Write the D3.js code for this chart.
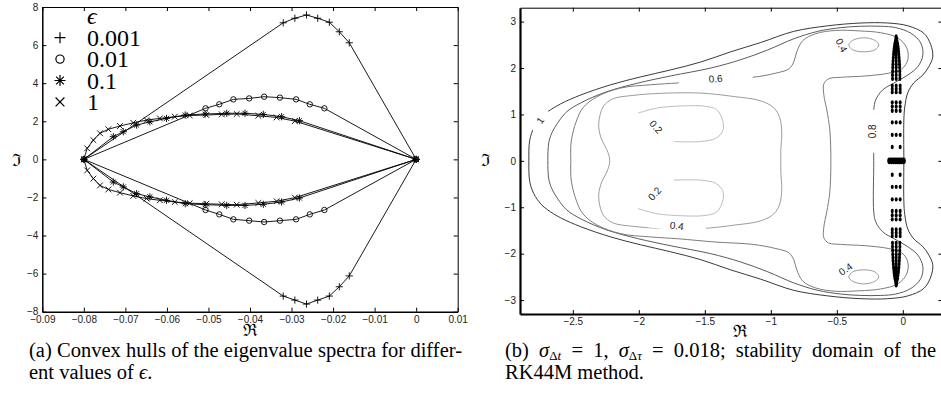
<!DOCTYPE html>
<html>
<head>
<meta charset="utf-8">
<title>Convex hulls / stability domain</title>
<script src="https://cdn.jsdelivr.net/npm/d3@7/dist/d3.min.js"></script>
<style>
  body { margin: 0; background: #fff; }
  .axis text { font-family: "Liberation Sans", Arial, sans-serif; font-size: 10px; fill: #222; }
  .axis line { stroke: #000; }
  .caption { font-family: "Liberation Serif", "Times New Roman", serif; font-size: 20.5px; fill: #000; }
  .frak { font-family: "DejaVu Serif", serif; font-size: 17px; fill: #000; }
  .legtext { font-family: "Liberation Serif", "Times New Roman", serif; font-size: 24px; fill: #000; }
  .clab { font-family: "Liberation Sans", Arial, sans-serif; font-size: 10px; fill: #222;
          paint-order: stroke; stroke: #fff; stroke-width: 4px; }
</style>
</head>
<body>
<svg id="fig" width="941" height="404"></svg>
<script>
// ---------------- panel (a): convex hulls ----------------
var xTicksA = [-0.09,-0.08,-0.07,-0.06,-0.05,-0.04,-0.03,-0.02,-0.01,0,0.01];
var yTicksA = [-8,-6,-4,-2,0,2,4,6,8];
var epsNames = ["0.001","0.01","0.1","1"];
var epsMarks = ["plus","circle","star","cross"];

// eps = 0.001
var hullE3 = [[-0.08,0],[-0.032,7.17],[-0.0292,7.41],[-0.0264,7.58],[-0.0237,7.41],[-0.0209,7.2],[-0.0185,6.7],[-0.0161,6.12],
  [0,0],[-0.0161,-6.12],[-0.0185,-6.69],[-0.0209,-7.18],[-0.0237,-7.39],[-0.0264,-7.6],[-0.0292,-7.39],[-0.032,-7.18]];
// eps = 0.01
var hullE2 = [[-0.08,0],[-0.0507,2.68],[-0.0474,2.89],[-0.044,3.15],[-0.0402,3.2],[-0.0366,3.29],[-0.0328,3.24],[-0.0289,3.15],[-0.0256,2.89],[-0.0221,2.68],
  [0,0],[-0.0221,-2.66],[-0.0256,-2.89],[-0.0289,-3.15],[-0.0328,-3.22],[-0.0366,-3.29],[-0.0402,-3.22],[-0.044,-3.15],[-0.0474,-2.89],[-0.0507,-2.66]];
// eps = 0.1
var hullE1 = [[-0.08,0],[-0.0729,1.19],[-0.0705,1.45],[-0.0673,1.8],[-0.0641,1.97],[-0.0601,2.15],[-0.0556,2.33],[-0.0508,2.38],[-0.0456,2.42],[-0.0412,2.42],[-0.0368,2.36],[-0.0324,2.24],[-0.0281,2.03],
  [0,0],[-0.0281,-2.03],[-0.0324,-2.24],[-0.0368,-2.36],[-0.0412,-2.42],[-0.0456,-2.42],[-0.0508,-2.38],[-0.0556,-2.33],[-0.0601,-2.15],[-0.0641,-1.97],[-0.0673,-1.8],[-0.0705,-1.45],[-0.0729,-1.19]];
// eps = 1
var hullE0 = [[-0.08,0],[-0.0792,0.58],[-0.0777,1.01],[-0.0761,1.37],[-0.0741,1.58],[-0.0713,1.75],[-0.0681,1.92],[-0.0649,2.06],[-0.0617,2.15],[-0.0581,2.24],[-0.0545,2.3],[-0.0505,2.33],[-0.0468,2.36],[-0.0432,2.38],[-0.038,2.29],[-0.0336,2.2],[-0.0292,2.01],
  [0,0],[-0.0292,-2.01],[-0.0336,-2.2],[-0.038,-2.29],[-0.0432,-2.38],[-0.0468,-2.36],[-0.0505,-2.33],[-0.0545,-2.3],[-0.0581,-2.24],[-0.0617,-2.15],[-0.0649,-2.06],[-0.0681,-1.92],[-0.0713,-1.75],[-0.0741,-1.58],[-0.0761,-1.37],[-0.0777,-1.01],[-0.0792,-0.58]];
var hulls = [hullE3, hullE2, hullE1, hullE0];

// ---------------- panel (b): stability domain ----------------
var xTicksB = [-2.5,-2,-1.5,-1,-0.5,0];
var yTicksB = [-3,-2,-1,0,1,2,3];

var level10 = [[-2.833,0],[-2.826,0.45],[-2.795,0.71],[-2.742,0.93],[-2.689,1.06],[-2.591,1.23],[-2.439,1.42],[-2.212,1.64],[-1.985,1.81],[-1.758,1.96],[-1.53,2.13],[-1.303,2.35],[-1.076,2.55],[-0.826,2.79],[-0.568,2.91],[-0.318,2.97],[-0.114,2.97],[0.038,2.91],[0.159,2.75],[0.212,2.5],[0.227,2.24],[0.197,2.03],[0.152,1.85],[0.083,1.68],[0.038,1.47],[0.015,1.16],[0.008,0.88],[0.008,0],
  [0.008,-0.88],[0.015,-1.16],[0.038,-1.47],[0.083,-1.68],[0.152,-1.85],[0.197,-2.03],[0.227,-2.24],[0.212,-2.5],[0.159,-2.75],[0.038,-2.91],[-0.114,-2.97],[-0.318,-2.97],[-0.568,-2.91],[-0.826,-2.79],[-1.076,-2.55],[-1.303,-2.35],[-1.53,-2.13],[-1.758,-1.96],[-1.985,-1.81],[-2.212,-1.64],[-2.439,-1.42],[-2.591,-1.23],[-2.689,-1.06],[-2.742,-0.93],[-2.795,-0.71],[-2.826,-0.45]];
var level08 = [[-2.689,0],[-2.682,0.39],[-2.659,0.6],[-2.614,0.82],[-2.545,1.06],[-2.439,1.25],[-2.242,1.49],[-2.008,1.675],[-1.758,1.83],[-1.455,2.0],[-1.227,2.18],[-1.023,2.39],[-0.826,2.63],[-0.644,2.79],[-0.47,2.87],[-0.318,2.9],[-0.167,2.9],[-0.053,2.87],[0.061,2.75],[0.136,2.54],[0.152,2.28],[0.114,2.03],[0.038,1.85],[-0.068,1.675],[-0.152,1.53],[-0.205,1.315],[-0.22,1.1],[-0.22,0],
  [-0.22,-1.1],[-0.205,-1.315],[-0.152,-1.53],[-0.068,-1.675],[0.038,-1.85],[0.114,-2.03],[0.152,-2.28],[0.136,-2.54],[0.061,-2.75],[-0.053,-2.87],[-0.167,-2.9],[-0.318,-2.9],[-0.47,-2.87],[-0.644,-2.79],[-0.826,-2.63],[-1.023,-2.39],[-1.227,-2.18],[-1.455,-2.0],[-1.758,-1.83],[-2.008,-1.675],[-2.242,-1.49],[-2.439,-1.25],[-2.545,-1.06],[-2.614,-0.82],[-2.659,-0.6],[-2.682,-0.39]];
var level06 = [[-2.515,0],[-2.515,0.345],[-2.5,0.6],[-2.47,0.88],[-2.424,1.14],[-2.318,1.38],[-2.136,1.57],[-1.909,1.64],[-1.697,1.68],[-1.417,1.75],[-1.136,1.8],[-0.962,1.89],[-0.864,1.98],[-0.826,2.13],[-0.803,2.35],[-0.758,2.59],[-0.659,2.74],[-0.508,2.81],[-0.333,2.8],[-0.167,2.76],[-0.038,2.65],[0.03,2.435],[0.038,2.18],[-0.008,1.98],[-0.106,1.89],[-0.28,1.83],[-0.47,1.8],[-0.561,1.77],[-0.598,1.66],[-0.598,1.42],[-0.576,1.1],[-0.553,0.67],[-0.545,0],
  [-0.553,-0.67],[-0.576,-1.1],[-0.598,-1.42],[-0.598,-1.66],[-0.561,-1.77],[-0.47,-1.8],[-0.28,-1.83],[-0.106,-1.89],[-0.008,-1.98],[0.038,-2.18],[0.03,-2.435],[-0.038,-2.65],[-0.167,-2.76],[-0.333,-2.8],[-0.508,-2.81],[-0.659,-2.74],[-0.758,-2.59],[-0.803,-2.35],[-0.826,-2.13],[-0.864,-1.98],[-0.962,-1.89],[-1.136,-1.8],[-1.417,-1.75],[-1.697,-1.68],[-1.909,-1.64],[-2.136,-1.57],[-2.318,-1.38],[-2.424,-1.14],[-2.47,-0.88],[-2.5,-0.6],[-2.515,-0.345]];
var level04 = [[-2.22,0],[-2.242,0.24],[-2.28,0.45],[-2.303,0.71],[-2.295,0.97],[-2.265,1.185],[-2.197,1.336],[-2.045,1.41],[-1.833,1.455],[-1.53,1.46],[-1.28,1.386],[-1.076,1.293],[-0.977,1.142],[-0.932,0.927],[-0.917,0.6],[-0.924,0.24],[-0.924,0],
  [-0.924,-0.24],[-0.917,-0.6],[-0.932,-0.927],[-0.977,-1.142],[-1.076,-1.293],[-1.28,-1.386],[-1.53,-1.46],[-1.833,-1.455],[-2.045,-1.41],[-2.197,-1.336],[-2.265,-1.185],[-2.295,-0.97],[-2.303,-0.71],[-2.28,-0.45],[-2.242,-0.24]];
var level04top = [[-0.409,2.5],[-0.379,2.597],[-0.295,2.651],[-0.212,2.597],[-0.182,2.5],[-0.212,2.392],[-0.295,2.349],[-0.379,2.392]];
var level04bot = [[-0.409,-2.5],[-0.379,-2.392],[-0.295,-2.349],[-0.212,-2.392],[-0.182,-2.5],[-0.212,-2.597],[-0.295,-2.651],[-0.379,-2.597]];
// the two 0.2 loops are open: a quarter of each is left out where its label sits
var level02top = [[-1.735,0.416],[-1.53,0.416],[-1.417,0.485],[-1.364,0.647],[-1.364,0.862],[-1.409,1.099],[-1.492,1.175],[-1.659,1.185],[-1.856,1.142],[-1.947,1.078],[-2.005,1.03]];
var level02bot = [[-1.735,-0.416],[-1.53,-0.416],[-1.417,-0.485],[-1.364,-0.647],[-1.364,-0.862],[-1.409,-1.099],[-1.492,-1.175],[-1.659,-1.185],[-1.856,-1.142],[-1.947,-1.078],[-2.005,-1.03]];

var closedContours = [level10, level08, level06, level04, level04top, level04bot];
var closedLevels = [1, 0.8, 0.6, 0.4, 0.4, 0.4];
var openContours = [level02top, level02bot];
var openLevels = [0.2, 0.2];

// label text, anchor (data units), angle, length of the break cut into the line (px)
var contourLabels = [
  {text:"1",   x:-2.742, y:0.86,  rot:-55, gap:24},
  {text:"0.8", x:-0.22,  y:0.636, rot:-90, gap:43},
  {text:"0.6", x:-1.417, y:1.75,  rot:-5,  gap:74},
  {text:"0.4", x:-0.47,  y:2.48,  rot:62,  gap:0},
  {text:"0.4", x:-0.43,  y:-2.35, rot:-35, gap:0},
  {text:"0.4", x:-1.712, y:-1.42, rot:7,   gap:58},
  {text:"0.2", x:-1.875, y:0.72,  rot:48,  gap:0},
  {text:"0.2", x:-1.875, y:-0.72, rot:-48, gap:0}
];

// scaled eigenvalues: [imag, real parts on that row]
var eigRows = [
  [2.68,[-0.05]],[2.63,[-0.053,-0.047]],[2.58,[-0.056,-0.044]],[2.53,[-0.06,-0.05,-0.04]],[2.47,[-0.063,-0.05,-0.037]],
  [2.41,[-0.066,-0.05,-0.034]],[2.35,[-0.068,-0.05,-0.032]],[2.29,[-0.07,-0.05,-0.03]],[2.22,[-0.072,-0.05,-0.028]],
  [2.15,[-0.074,-0.05,-0.026]],[2.08,[-0.075,-0.05,-0.025]],[2.01,[-0.076,-0.05,-0.024]],[1.93,[-0.077,-0.05,-0.023]],
  [1.85,[-0.078,-0.05,-0.022]],[1.77,[-0.078,-0.05,-0.022]],[1.62,[-0.08,-0.05,-0.02]],[1.55,[-0.08,-0.05,-0.02]],
  [1.48,[-0.08,-0.05,-0.02]],[1.26,[-0.08,-0.05,-0.02]],[1.17,[-0.08,-0.05,-0.02]],[1.08,[-0.08,-0.05,-0.02]],
  [0.83,[-0.08,-0.05,-0.02]],[0.56,[-0.08,-0.05,-0.02]],[0.3,[-0.08,-0.02]],
  [0,[-0.1,-0.085,-0.07,-0.055,-0.04,-0.025,-0.01,0.005]],
  [-0.3,[-0.08,-0.02]],[-0.56,[-0.08,-0.05,-0.02]],[-0.83,[-0.08,-0.05,-0.02]],
  [-1.08,[-0.08,-0.05,-0.02]],[-1.17,[-0.08,-0.05,-0.02]],[-1.26,[-0.08,-0.05,-0.02]],
  [-1.48,[-0.08,-0.05,-0.02]],[-1.55,[-0.08,-0.05,-0.02]],[-1.62,[-0.08,-0.05,-0.02]],
  [-1.77,[-0.078,-0.05,-0.022]],[-1.85,[-0.078,-0.05,-0.022]],[-1.93,[-0.077,-0.05,-0.023]],[-2.01,[-0.076,-0.05,-0.024]],
  [-2.08,[-0.075,-0.05,-0.025]],[-2.15,[-0.074,-0.05,-0.026]],[-2.22,[-0.072,-0.05,-0.028]],[-2.29,[-0.07,-0.05,-0.03]],
  [-2.35,[-0.068,-0.05,-0.032]],[-2.41,[-0.066,-0.05,-0.034]],[-2.47,[-0.063,-0.05,-0.037]],[-2.53,[-0.06,-0.05,-0.04]],
  [-2.58,[-0.056,-0.044]],[-2.63,[-0.053,-0.047]],[-2.68,[-0.05]]
];

// ------------------------------------------------------------------
var svg = d3.select("#fig");
svg.append("rect").attr("width", 941).attr("height", 404).attr("fill", "#fff");

var fmt = function(d) { return d === 0 ? "0" : d3.format("")(d); };

function drawFrame(x, y, xt, yt, tick) {
  var g = svg.append("g");
  var xr = x.range(), yr = y.range();
  g.append("g").attr("class", "axis").attr("transform", "translate(0," + yr[0] + ")")
    .call(d3.axisBottom(x).tickValues(xt).tickFormat(fmt).tickSize(-tick).tickSizeOuter(0).tickPadding(4));
  g.append("g").attr("class", "axis").attr("transform", "translate(0," + yr[1] + ")")
    .call(d3.axisTop(x).tickValues(xt).tickFormat("").tickSize(-tick).tickSizeOuter(0));
  g.append("g").attr("class", "axis").attr("transform", "translate(" + xr[0] + ",0)")
    .call(d3.axisLeft(y).tickValues(yt).tickFormat(fmt).tickSize(-tick).tickSizeOuter(0).tickPadding(4));
  g.append("g").attr("class", "axis").attr("transform", "translate(" + xr[1] + ",0)")
    .call(d3.axisRight(y).tickValues(yt).tickFormat("").tickSize(-tick).tickSizeOuter(0));
  g.selectAll(".axis").attr("font-family", null).attr("font-size", null);
  g.selectAll(".domain").attr("stroke", "#000").attr("stroke-width", 1);
  return g;
}

function marker(g, type, cx, cy, s, sw) {
  var p;
  if (type === "plus") p = "M" + (cx - s) + "," + cy + "H" + (cx + s) + "M" + cx + "," + (cy - s) + "V" + (cy + s);
  else if (type === "cross") { var c = s * 0.8; p = "M" + (cx - c) + "," + (cy - c) + "L" + (cx + c) + "," + (cy + c) + "M" + (cx - c) + "," + (cy + c) + "L" + (cx + c) + "," + (cy - c); }
  else if (type === "star") { var k = s * 0.7;
    p = "M" + (cx - s) + "," + cy + "H" + (cx + s) + "M" + cx + "," + (cy - s) + "V" + (cy + s) +
        "M" + (cx - k) + "," + (cy - k) + "L" + (cx + k) + "," + (cy + k) + "M" + (cx - k) + "," + (cy + k) + "L" + (cx + k) + "," + (cy - k); }
  if (type === "circle") g.append("circle").attr("cx", cx).attr("cy", cy).attr("r", s * 0.75).attr("fill", "none").attr("stroke", "#000").attr("stroke-width", sw);
  else g.append("path").attr("d", p).attr("fill", "none").attr("stroke", "#000").attr("stroke-width", sw);
}

// stretch interword spaces so a caption line fills its column (justified text)
function justify(sel, width) {
  var node = sel.node();
  var spaces = (node.textContent.match(/ /g) || []).length;
  var extra = width - node.getComputedTextLength();
  if (spaces > 0) sel.attr("word-spacing", extra / spaces);
}

// ---------------- draw panel (a) ----------------
var xa = d3.scaleLinear().domain([-0.09, 0.01]).range([42.3, 457.7]);
var ya = d3.scaleLinear().domain([-8, 8]).range([311.7, 7]);
var frameA = drawFrame(xa, ya, xTicksA, yTicksA, 4);
frameA.selectAll(".domain").filter(function(d, i) { return i === 0 || i === 2; }).attr("stroke-width", 1.5);

var lineA = d3.line().x(function(d) { return xa(d[0]); }).y(function(d) { return ya(d[1]); }).curve(d3.curveLinearClosed);
var gA = svg.append("g");
hulls.forEach(function(h, i) {
  gA.append("path").attr("d", lineA(h)).attr("fill", "none").attr("stroke", "#000").attr("stroke-width", 0.9);
  h.forEach(function(d) { marker(gA, epsMarks[i], xa(d[0]), ya(d[1]), 3.6, 0.9); });
});

// legend
var leg = svg.append("g");
leg.append("text").attr("class", "legtext").attr("x", 87).attr("y", 24).style("font-style", "italic").text("\u03F5");
epsNames.forEach(function(n, i) {
  var cy = 37.7 + i * 21.4;
  marker(leg, epsMarks[i], 60, cy, 5.5, 1.2);
  leg.append("text").attr("class", "legtext").attr("x", 87).attr("y", cy + 8).text(n);
});

svg.append("text").attr("class", "frak").attr("x", 17).attr("y", 161).attr("text-anchor", "middle").attr("dominant-baseline", "middle").text("\u2111");
svg.append("text").attr("class", "frak").attr("x", 250).attr("y", 331).attr("text-anchor", "middle").attr("dominant-baseline", "middle").text("\u211C");

// ---------------- draw panel (b) ----------------
var xb = d3.scaleLinear().domain([-2.9, 0.3]).range([520, 942.4]);
var yb = d3.scaleLinear().domain([-3.3, 3.3]).range([314, 7.7]);

svg.append("clipPath").attr("id", "clipB").append("rect")
  .attr("x", 520).attr("y", 7.7).attr("width", 422.4).attr("height", 306.3);
var gB = svg.append("g").attr("clip-path", "url(#clipB)");

var shade = d3.scaleLinear().domain([0.2, 1]).range(["#bdbdbd", "#3a3a3a"]);
var lineClosed = d3.line().x(function(d) { return xb(d[0]); }).y(function(d) { return yb(d[1]); }).curve(d3.curveCatmullRomClosed.alpha(0.5));
var lineOpen = d3.line().x(function(d) { return xb(d[0]); }).y(function(d) { return yb(d[1]); }).curve(d3.curveCatmullRom.alpha(0.5));
closedContours.forEach(function(c, i) {
  gB.append("path").attr("d", lineClosed(c)).attr("fill", "none").attr("stroke", shade(closedLevels[i])).attr("stroke-width", 1);
});
openContours.forEach(function(c, i) {
  gB.append("path").attr("d", lineOpen(c)).attr("fill", "none").attr("stroke", shade(openLevels[i])).attr("stroke-width", 1);
});

contourLabels.forEach(function(l) {
  var g = gB.append("g").attr("transform", "translate(" + xb(l.x) + "," + yb(l.y) + ") rotate(" + l.rot + ")");
  if (l.gap > 0) g.append("rect").attr("x", -l.gap / 2).attr("y", -4).attr("width", l.gap).attr("height", 8).attr("fill", "#fff");
  g.append("text").attr("class", "clab").attr("text-anchor", "middle").attr("dominant-baseline", "middle").text(l.text);
});

eigRows.forEach(function(r) {
  var big = r[0] === 0;
  r[1].forEach(function(re) {
    gB.append("ellipse").attr("cx", xb(re)).attr("cy", yb(r[0]))
      .attr("rx", big ? 2.4 : 1.5).attr("ry", big ? 3.4 : 2.2).attr("fill", "#000");
  });
});

var frameB = drawFrame(xb, yb, xTicksB, yTicksB, 4);
frameB.selectAll(".domain").filter(function(d, i) { return i === 0 || i === 2; }).attr("stroke-width", 2.2);

svg.append("text").attr("class", "frak").attr("x", 486).attr("y", 161).attr("text-anchor", "middle").attr("dominant-baseline", "middle").text("\u2111");
svg.append("text").attr("class", "frak").attr("x", 740).attr("y", 332).attr("text-anchor", "middle").attr("dominant-baseline", "middle").text("\u211C");

// ---------------- captions ----------------
var capA1 = svg.append("text").attr("class", "caption").attr("x", 29).attr("y", 357).text("(a) Convex hulls of the eigenvalue spectra for differ-");
justify(capA1, 433);
var capA2 = svg.append("text").attr("class", "caption").attr("x", 29).attr("y", 379);
capA2.append("tspan").text("ent values of ");
capA2.append("tspan").style("font-style", "italic").text("\u03F5");
capA2.append("tspan").text(".");

var capB = svg.append("text").attr("class", "caption").attr("x", 505).attr("y", 357);
capB.append("tspan").text("(b) ");
capB.append("tspan").style("font-style", "italic").text("\u03C3");
capB.append("tspan").attr("dy", 3).attr("font-size", 13).text("\u0394");
capB.append("tspan").attr("font-size", 13).style("font-style", "italic").text("t");
capB.append("tspan").attr("dy", -3).text(" = 1, ");
capB.append("tspan").style("font-style", "italic").text("\u03C3");
capB.append("tspan").attr("dy", 3).attr("font-size", 13).text("\u0394");
capB.append("tspan").attr("font-size", 13).style("font-style", "italic").text("\u03C4");
capB.append("tspan").attr("dy", -3).text(" = 0.018; stability domain of the");
justify(capB, 431);
svg.append("text").attr("class", "caption").attr("x", 505).attr("y", 379).text("RK44M method.");
</script>
</body>
</html>
